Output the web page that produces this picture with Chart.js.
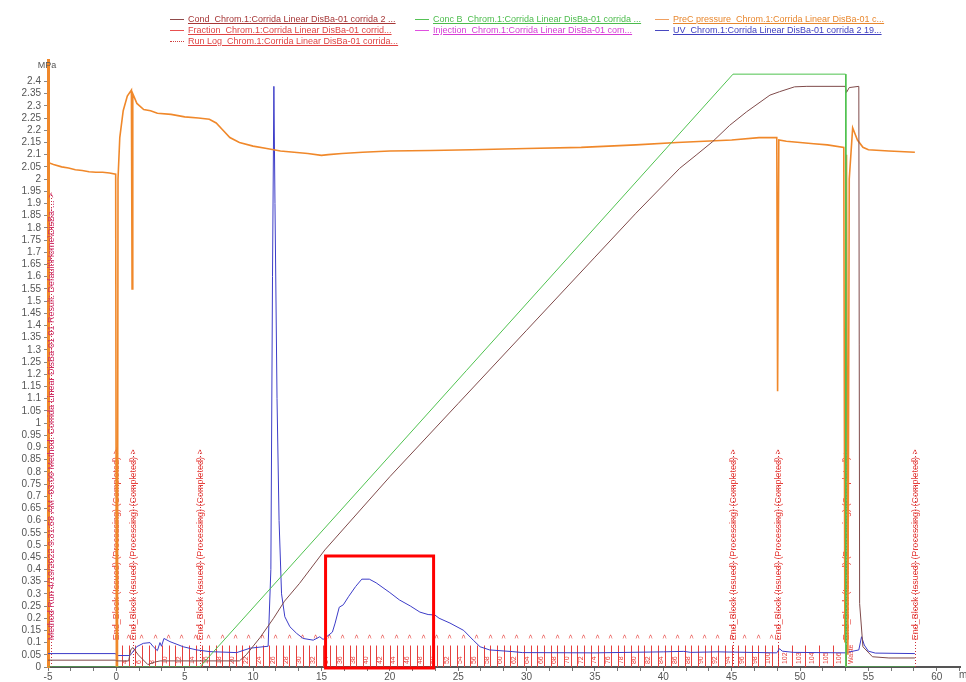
<!DOCTYPE html>
<html>
<head>
<meta charset="utf-8">
<script src="https://cdn.jsdelivr.net/npm/chart.js@4.4.1/dist/chart.umd.min.js"></script>
<style>
  html, body { margin: 0; padding: 0; background: #fff; }
  #wrap { position: relative; width: 966px; height: 682px; overflow: hidden; }
  #chart { position: absolute; left: 0; top: 0; }
  .item { position: absolute; white-space: nowrap; font: 9px "Liberation Sans", Arial, sans-serif; line-height: 11px; }
  .item i { display: inline-block; width: 14px; height: 0; border-top: 1px solid; vertical-align: middle; margin-right: 4px; }
  .item span { text-decoration: underline; }
</style>
</head>
<body>
<div id="wrap">
  <canvas id="chart" width="966" height="682"></canvas>
</div>
<script>
// Cromatograma UNICORN - Corrida Linear DisBa-01 corrida 2

// PreC pressure (MPa)
const pressTime = [-5, -4.6, -4, -3.5, -3, -2.5, -2, -1.5, -1, -0.5, -0.05, 0, 0.08, 0.12, 0.25, 0.5, 0.8, 1.1, 1.15, 1.2,
  1.5, 2, 2.5, 3, 4, 5, 6, 6.8, 7.3, 7.8, 8.3, 9, 10, 11, 12, 13, 14, 15, 15.5, 16.5, 18, 20, 23, 26, 30, 34, 38, 41,
  43, 45, 47, 48.3, 48.36, 48.45, 49, 50, 51, 52, 53.2, 53.28, 53.4, 53.5, 53.6, 53.85, 54.2, 54.6, 55, 56.5, 58.4];
const pressValue = [2.068, 2.06, 2.05, 2.045, 2.038, 2.035, 2.03, 2.028, 2.028, 2.025, 2.02, 0, 0, 2.0, 2.17, 2.28, 2.34, 2.365, 1.55, 2.35,
  2.31, 2.285, 2.28, 2.27, 2.265, 2.255, 2.25, 2.245, 2.23, 2.2, 2.17, 2.15, 2.135, 2.125, 2.115, 2.11, 2.105, 2.097, 2.1, 2.105, 2.11, 2.115, 2.117, 2.12, 2.125, 2.13, 2.14, 2.15,
  2.155, 2.16, 2.17, 2.17, 1.13, 2.16, 2.155, 2.15, 2.145, 2.14, 2.13, 0.1, 2.1, 0.05, 2.0, 2.21, 2.16, 2.13, 2.12, 2.115, 2.11];

// Conc B (en la escala del eje)
const concTime = [-5, 6.1, 45.1, 53.33, 53.36, 58.4];
const concValue = [0, 0, 2.43, 2.43, 0, 0];

// Cond
const condTime = [-5, -0.05, 0, 0.9, 1.05, 1.2, 1.6, 2.3, 2.8, 3.2, 9.0, 9.5, 10.5, 11.5, 12.3, 13.4, 15.25, 20, 25, 30, 35, 38,
  41.2, 42.4, 43.6, 44.85, 46.1, 47.8, 48.5, 49.6, 50.5, 53.3, 53.4, 53.6, 54.3, 54.36, 54.6, 55.3, 56.5, 58.4];
const condValue = [0.028, 0.028, 0.025, 0.025, 0.07, 0.08, 0.05, 0.01, 0.02, 0.025, 0.025, 0.05, 0.12, 0.2, 0.27, 0.343, 0.48, 0.78, 1.08, 1.38, 1.68, 1.86,
  2.044, 2.098, 2.153, 2.22, 2.276, 2.344, 2.358, 2.378, 2.38, 2.38, 2.355, 2.375, 2.38, 0.26, 0.083, 0.042, 0.037, 0.037];

// UV
const uvTime = [-5, -0.05, 0.02, 1.0, 1.12, 1.48, 1.97, 2.46, 2.7, 3.0, 3.19, 3.3, 3.48, 3.92, 4.89, 5.87, 6.84, 8.8, 9.77, 10.74,
  11.1, 11.3, 11.42, 11.52, 11.6, 11.75, 11.9, 12.08, 12.32, 12.69, 13.18, 13.66, 14.4, 14.88, 15.12, 15.4, 15.8, 16.0, 16.3, 16.6,
  17.0, 17.5, 17.95, 18.5, 19.0, 19.5, 20.0, 20.7, 21.5, 22.2, 22.8, 23.3, 23.6, 24.4, 25.4, 26.1, 26.6, 27.3, 29.0, 29.7,
  35, 40, 41.5, 42, 44, 48.3, 48.5, 48.7, 49.5, 53.3, 54.3, 54.5, 54.7, 55, 55.5, 58.4];
const uvValue = [0.055, 0.055, 0.047, 0.047, 0.056, 0.083, 0.097, 0.1, 0.083, 0.067, 0.1, 0.085, 0.117, 0.104, 0.083, 0.07, 0.063, 0.059, 0.077, 0.083,
  0.085, 0.4, 1.6, 2.38, 1.9, 1.1, 0.6, 0.3, 0.206, 0.165, 0.138, 0.117, 0.11, 0.124, 0.113, 0.125, 0.143, 0.18, 0.245, 0.255,
  0.29, 0.33, 0.36, 0.36, 0.345, 0.325, 0.305, 0.275, 0.25, 0.225, 0.215, 0.213, 0.2, 0.18, 0.15, 0.11, 0.083, 0.07, 0.063, 0.059,
  0.058, 0.062, 0.064, 0.06, 0.062, 0.058, 0.075, 0.065, 0.06, 0.058, 0.07, 0.124, 0.09, 0.065, 0.057, 0.055];

// Fracciones: limites (min)
const fracEdges = [0.40, 0.89, 1.38, 1.87, 2.36, 2.85, 3.34, 3.83, 4.32, 4.81,
  5.30, 5.79, 6.28, 6.77, 7.26, 7.75, 8.24, 8.73, 9.22, 9.71,
  10.20, 10.69, 11.18, 11.67, 12.16, 12.65, 13.14, 13.63, 14.12, 14.61,
  15.10, 15.59, 16.08, 16.57, 17.06, 17.55, 18.04, 18.53, 19.02, 19.51,
  20.00, 20.49, 20.98, 21.47, 21.96, 22.45, 22.94, 23.43, 23.92, 24.41,
  24.90, 25.39, 25.88, 26.37, 26.86, 27.35, 27.84, 28.33, 28.82, 29.31,
  29.80, 30.29, 30.78, 31.27, 31.76, 32.25, 32.74, 33.23, 33.72, 34.21,
  34.70, 35.19, 35.68, 36.17, 36.66, 37.15, 37.64, 38.13, 38.62, 39.11,
  39.60, 40.09, 40.58, 41.07, 41.56, 42.05, 42.54, 43.03, 43.52, 44.01,
  44.50, 44.99, 45.48, 45.97, 46.46, 46.95, 47.44, 47.93, 48.42,
  49.41, 50.40, 51.39, 52.38, 53.35];
const firstFraction = 4;
const wasteTime = 53.75;

// Run log
const runLogTime = [-4.75, 0, 1.2, 6.1, 45.1, 48.4, 53.35, 58.4];
const runLogText = [
  'Method Run 4/19/2022 9:31:58 AM -03:00 Method: Corrida Linear DisBa-01 01 Result: Default\\Home\\DisBa-...',
  'End_Block (Issued) (Processing) (Completed)',
  'End_Block (Issued) (Processing) (Completed)',
  'End_Block (Issued) (Processing) (Completed)',
  'End_Block (Issued) (Processing) (Completed)',
  'End_Block (Issued) (Processing) (Completed)',
  'End_Block (Issued) (Processing) (Completed)',
  'End_Block (Issued) (Processing) (Completed)'
];
const injectionTime = [0];

const legendLabels = [
  'Cond_Chrom.1:Corrida Linear DisBa-01 corrida 2 ...',
  'Fraction_Chrom.1:Corrida Linear DisBa-01 corrid...',
  'Run Log_Chrom.1:Corrida Linear DisBa-01 corrida...',
  'Conc B_Chrom.1:Corrida Linear DisBa-01 corrida ...',
  'Injection_Chrom.1:Corrida Linear DisBa-01 com...',
  'PreC pressure_Chrom.1:Corrida Linear DisBa-01 c...',
  'UV_Chrom.1:Corrida Linear DisBa-01 corrida 2 19...'
];

const FONT = '"Liberation Sans", Arial, sans-serif';
const RED = '#e6403c';

function pts(xs, ys) {
  return xs.map((t, i) => ({ x: t, y: ys[i] }));
}

// Leyenda
const legendStyle = [
  { line: '#8f4a4a', text: '#a63636', col: 0, row: 0 },
  { line: '#e85050', text: '#e04444', col: 0, row: 1 },
  { line: '#d04040', text: '#e04444', col: 0, row: 2, dash: true },
  { line: '#55c255', text: '#4cbc4c', col: 1, row: 0 },
  { line: '#e050e0', text: '#d63cd6', col: 1, row: 1 },
  { line: '#f0a060', text: '#e8872e', col: 2, row: 0 },
  { line: '#4848c0', text: '#4040c0', col: 2, row: 1 }
];
const colX = [170, 415, 655];
const wrap = document.getElementById('wrap');
legendLabels.forEach((txt, i) => {
  const st = legendStyle[i];
  const d = document.createElement('div');
  d.className = 'item';
  d.style.left = colX[st.col] + 'px';
  d.style.top = (14 + st.row * 11) + 'px';
  d.style.color = st.text;
  d.innerHTML = '<i style="border-top-color:' + st.line + (st.dash ? ';border-top-style:dotted' : '') + '"></i><span></span>';
  d.querySelector('span').textContent = txt;
  wrap.appendChild(d);
});

function rotText(ctx, txt, px, py) {
  ctx.save();
  ctx.translate(px, py);
  ctx.rotate(-Math.PI / 2);
  ctx.fillText(txt, 0, 0);
  ctx.restore();
}

const overlay = {
  id: 'overlay',
  beforeDatasetsDraw(chart) {
    const { ctx, scales: { x, y } } = chart;
    const y0 = y.getPixelForValue(0);
    ctx.save();

    // lineas de fraccion
    ctx.strokeStyle = RED;
    ctx.lineWidth = 1;
    ctx.beginPath();
    fracEdges.forEach(t => {
      const px = Math.round(x.getPixelForValue(t)) + 0.5;
      ctx.moveTo(px, y0);
      ctx.lineTo(px, y.getPixelForValue(0.088));
    });
    ctx.stroke();

    // numeros de fraccion
    ctx.fillStyle = RED;
    ctx.textAlign = 'left';
    ctx.textBaseline = 'middle';
    for (let i = 0; i < fracEdges.length - 1; i++) {
      const num = firstFraction + i;
      const small = (fracEdges[i + 1] - fracEdges[i]) < 0.7;
      if (small && num % 2) continue;
      const cx = x.getPixelForValue((fracEdges[i] + fracEdges[i + 1]) / 2);
      ctx.font = '7px ' + FONT;
      rotText(ctx, String(num), cx, y.getPixelForValue(0.012));
      if (small) {
        ctx.font = '8px ' + FONT;
        rotText(ctx, '>', x.getPixelForValue(fracEdges[i + 1]), y.getPixelForValue(0.115));
      }
    }
    ctx.font = '7px ' + FONT;
    rotText(ctx, 'Waste', x.getPixelForValue(wasteTime), y.getPixelForValue(0.012));

    // injection
    ctx.strokeStyle = '#e040e0';
    ctx.beginPath();
    injectionTime.forEach(t => {
      const px = Math.round(x.getPixelForValue(t)) + 0.5;
      ctx.moveTo(px, y0);
      ctx.lineTo(px, y.getPixelForValue(0.9));
    });
    ctx.stroke();

    // run log
    ctx.font = '9px ' + FONT;
    runLogTime.forEach((t, i) => {
      const px = Math.round(x.getPixelForValue(t)) + 0.5;
      const txt = runLogText[i] + ' >';
      const w = ctx.measureText(txt).width;
      const yStart = y.getPixelForValue(0.11);
      ctx.strokeStyle = '#c8303a';
      ctx.setLineDash([1, 2]);
      ctx.beginPath();
      ctx.moveTo(px, y0);
      ctx.lineTo(px, yStart - w);
      ctx.stroke();
      ctx.setLineDash([]);
      ctx.fillStyle = i === 0 ? '#d0306a' : RED;
      rotText(ctx, txt, px, yStart);
    });
    ctx.restore();
  },
  afterDraw(chart) {
    const { ctx, scales: { x, y } } = chart;
    ctx.save();
    // recuadro rojo
    ctx.strokeStyle = '#ff0000';
    ctx.lineWidth = 3;
    const bx0 = x.getPixelForValue(15.3), bx1 = x.getPixelForValue(23.2);
    const by0 = y.getPixelForValue(0.455), by1 = y.getPixelForValue(0) + 1;
    ctx.strokeRect(bx0, by0, bx1 - bx0, by1 - by0);
    // unidades
    ctx.fillStyle = '#555';
    ctx.font = '9px ' + FONT;
    ctx.textAlign = 'center';
    ctx.textBaseline = 'middle';
    ctx.fillText('MPa', 47, 66);
    ctx.font = '10px ' + FONT;
    ctx.textAlign = 'left';
    ctx.fillText('ml', 959, 675);
    ctx.restore();
  }
};

new Chart(document.getElementById('chart'), {
  type: 'line',
  data: {
    datasets: [
      { label: 'Conc B', data: pts(concTime, concValue), borderColor: '#4fc24f', borderWidth: 1 },
      { label: 'Cond', data: pts(condTime, condValue), borderColor: '#7f4a4a', borderWidth: 1 },
      { label: 'PreC pressure', data: pts(pressTime, pressValue), borderColor: '#f0882a', borderWidth: 1.6 },
      { label: 'UV', data: pts(uvTime, uvValue), borderColor: '#3c3cc8', borderWidth: 1 }
    ]
  },
  options: {
    responsive: false,
    animation: false,
    elements: { point: { radius: 0 }, line: { tension: 0 } },
    layout: { padding: { left: 0, top: 60, right: 6, bottom: 0 } },
    plugins: { legend: { display: false }, tooltip: { enabled: false } },
    scales: {
      x: {
        type: 'linear', min: -5, max: 61.7,
        afterFit(s) { s.height = 15; },
        ticks: { stepSize: 5 / 3, includeBounds: false, autoSkip: false, maxRotation: 0, padding: 0, color: '#555', font: { size: 10, family: FONT },
          callback: v => {
            const r = Math.round(v);
            return (Math.abs(v - r) < 0.01 && r % 5 === 0) ? String(r) : '';
          } },
        grid: { drawOnChartArea: false, tickLength: 4, color: '#777' },
        border: { color: '#555', width: 2 }
      },
      y: {
        min: 0, max: 2.488,
        afterFit(s) { s.width = 48; },
        afterBuildTicks(s) { s.ticks = s.ticks.filter(t => t.value <= 2.4001); },
        ticks: { stepSize: 0.05, includeBounds: false, autoSkip: false, padding: 3, color: '#555', font: { size: 10, family: FONT },
          callback: v => String(+v.toFixed(2)) },
        grid: { drawOnChartArea: false, tickLength: 4, color: '#888' },
        border: { color: '#f0882a', width: 3 }
      }
    }
  },
  plugins: [overlay]
});
</script>
</body>
</html>
